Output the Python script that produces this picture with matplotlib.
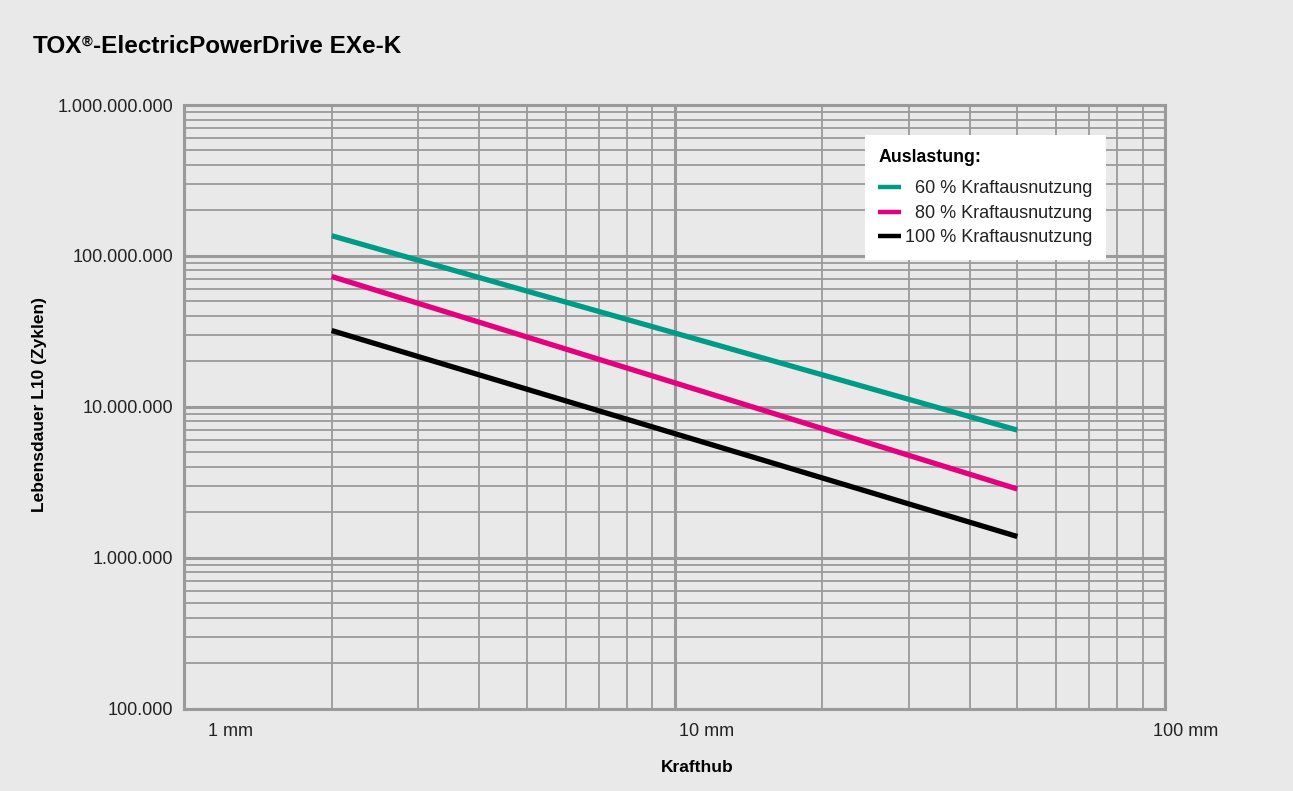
import matplotlib
matplotlib.use("Agg")
import matplotlib.pyplot as plt
from matplotlib.lines import Line2D
from matplotlib.ticker import FixedLocator, LogLocator, NullFormatter

plt.rcParams['font.family'] = ['Liberation Sans', 'DejaVu Sans']

# ---- data ----
title_main = "TOX"
title_sup = "®"
title_rest = "-ElectricPowerDrive EXe-K"
x_label = "Krafthub"
y_label = "Lebensdauer L10 (Zyklen)"
legend_title = "Auslastung:"

stroke_mm = [2, 50]
series_names = ["60 % Kraftausnutzung", "80 % Kraftausnutzung", "100 % Kraftausnutzung"]
life_60 = [1.36e8, 7.0e6]
life_80 = [7.3e7, 2.85e6]
life_100 = [3.2e7, 1.38e6]
series_values = [life_60, life_80, life_100]
series_colors = ["#009b87", "#e5007d", "#000000"]

x_ticks = [1, 10, 100]
x_tick_labels = ["1 mm", "10 mm", "100 mm"]
x_label_shift = [46, 32, 21]
y_ticks = [1e5, 1e6, 1e7, 1e8, 1e9]
y_tick_labels = ["100.000", "1.000.000", "10.000.000", "100.000.000", "1.000.000.000"]

bg = "#e9e9e9"
grid_col = "#9a9a9a"

W, H = 1293, 791
fig = plt.figure(figsize=(W / 100, H / 100), dpi=100, facecolor=bg)
ax = fig.add_axes([184 / W, 1 - 708.5 / H, (1165 - 184) / W, (708.5 - 105) / H])
ax.set_facecolor(bg)
ax.set_xscale('log')
ax.set_yscale('log')
ax.set_xlim(1, 100)
ax.set_ylim(1e5, 1e9)

ax.xaxis.set_major_locator(FixedLocator(x_ticks))
ax.xaxis.set_minor_locator(LogLocator(base=10, subs=range(2, 10)))
ax.yaxis.set_major_locator(FixedLocator(y_ticks))
ax.yaxis.set_minor_locator(LogLocator(base=10, subs=range(2, 10)))
ax.xaxis.set_major_formatter(NullFormatter())
ax.xaxis.set_minor_formatter(NullFormatter())
ax.yaxis.set_minor_formatter(NullFormatter())
ax.set_yticks(y_ticks)
ax.set_yticklabels(y_tick_labels)
ax.tick_params(axis='both', which='both', length=0)
ax.tick_params(axis='y', which='major', pad=8, labelsize=13, labelcolor="#222222")

ax.grid(True, which='major', color=grid_col, lw=2.2)
ax.grid(True, which='minor', color=grid_col, lw=1.3)
ax.set_axisbelow(True)
for s in ax.spines.values():
    s.set_color(grid_col)
    s.set_linewidth(2.2)

for vals, col, name in zip(series_values, series_colors, series_names):
    ax.plot(stroke_mm, vals, color=col, lw=3.8, solid_capstyle='butt', label=name)

for v, lab, dx in zip(x_ticks, x_tick_labels, x_label_shift):
    ax.annotate(lab, xy=(v, 0), xycoords=('data', 'axes fraction'),
                xytext=(dx, -23), textcoords='offset pixels',
                ha='center', va='center', fontsize=13, color="#222222",
                annotation_clip=False)

# legend
handles = [Line2D([], [], color=c, lw=3.2, solid_capstyle='butt') for c in series_colors]
labels = ["  " + series_names[0], "  " + series_names[1], series_names[2]]
leg = ax.legend(handles, labels, title=legend_title, loc='upper right',
                bbox_to_anchor=(0.940, 0.950), frameon=True, fancybox=False,
                framealpha=1, facecolor='white', edgecolor='none',
                fontsize=13, title_fontproperties={'weight': 'bold', 'size': 12.8},
                handlelength=1.25, handletextpad=0.25, labelspacing=0.42,
                borderpad=0.75, borderaxespad=0)
leg._legend_box.align = "left"
leg._legend_box.sep = 10.5
for t in leg.get_texts():
    t.set_color("#222222")

# axis labels
fig.text(697 / W, 1 - 767 / H, x_label, ha='center', va='center',
         fontsize=12.5, fontweight='bold')
fig.text(40 / W, 1 - 405 / H, y_label, ha='center', va='center', rotation=90,
         fontsize=12.5, fontweight='bold')

# title with superscript ®
renderer = fig.canvas.get_renderer()
tx, ty = 33 / W, 1 - 53 / H
t1 = fig.text(tx, ty, title_main, fontsize=17.5, fontweight='bold', va='baseline')
bb = t1.get_window_extent(renderer)
t2 = fig.text(bb.x1 / W - 0.5 / W, ty + 7 / H, title_sup, fontsize=10.5, fontweight='bold', va='baseline')
bb2 = t2.get_window_extent(renderer)
t3 = fig.text(bb2.x1 / W + 0.5 / W, ty, title_rest, fontsize=17.5, fontweight='bold', va='baseline')

fig.savefig("out.png", dpi=100, facecolor=bg)
